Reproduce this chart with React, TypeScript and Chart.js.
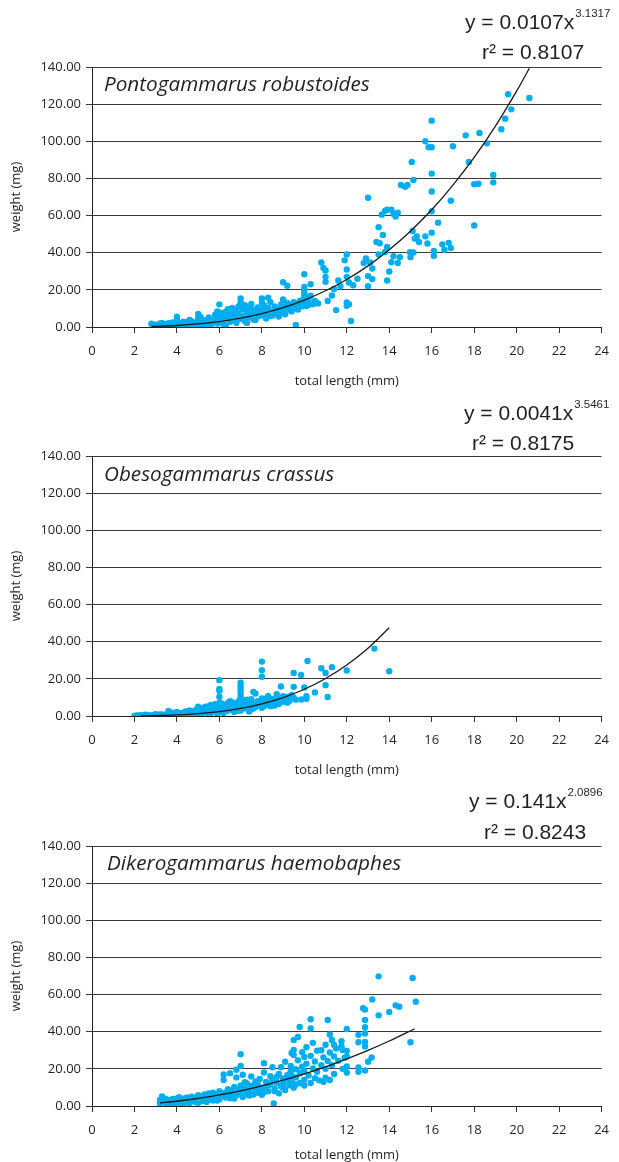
import React, { useEffect, useRef } from "react";
import { Chart, registerables } from "chart.js";

Chart.register(...registerables);

// ---------- DATA ----------
const SPECIES = ["Pontogammarus robustoides", "Obesogammarus crassus", "Dikerogammarus haemobaphes"];
const EQ_COEF = ["0.0107", "0.0041", "0.141"];
const EQ_EXP = ["3.1317", "3.5461", "2.0896"];
const R2 = ["0.8107", "0.8175", "0.8243"];
const X_TITLE = "total length (mm)";
const Y_TITLE = "weight (mg)";
const X_MIN = 0, X_MAX = 24, X_STEP = 2;
const Y_MIN = 0, Y_MAX = 140, Y_STEP = 20;

// fitted curves as drawn (length mm, weight mg)
const robustoidesTrendX = [2.8, 4, 5, 6, 7, 8, 9, 10, 11, 12, 13, 14, 15, 16, 17, 18, 19, 20, 20.6];
const robustoidesTrendY = [0.27, 0.82, 1.65, 2.93, 4.74, 7.2, 10.4, 14.5, 19.5, 25.6, 32.9, 41.6, 51.6, 63.1, 76.4, 91.3, 108.2, 127.0, 139.3];
const crassusTrendX = [2.3, 3, 4, 5, 6, 7, 8, 9, 10, 11, 12, 13, 14];
const crassusTrendY = [0.08, 0.2, 0.56, 1.23, 2.36, 4.1, 6.53, 9.9, 14.4, 20.2, 27.5, 36.5, 47.5];
const haemobaphesTrendX = [3.2, 4, 5, 6, 7, 8, 9, 10, 11, 12, 13, 14, 15.2];
const haemobaphesTrendY = [1.6, 2.56, 4.06, 5.96, 8.2, 10.87, 13.9, 17.3, 21.1, 25.4, 30.0, 35.0, 41.6];

const robustoidesPoints: [number, number][] = [
  [2.8, 1.8], [2.9, 0.6], [3.0, 1.2], [3.1, 0.3], [3.2, 1.9], [3.3, 0.8], [3.4, 1.5], [3.5, 0.4], [3.6, 2.0], [3.7, 1.0],
  [3.8, 0.5], [3.9, 1.6], [4.0, 3.8], [4.0, 5.6], [4.0, 0.8], [4.1, 2.2], [4.2, 1.2], [4.3, 0.4], [4.4, 1.8], [4.5, 2.7],
  [4.5, 0.9], [4.6, 1.4], [4.7, 3.0], [4.8, 0.7], [4.9, 2.1], [5.0, 7.0], [5.0, 4.7], [5.0, 3.2], [5.0, 1.6], [5.1, 0.8],
  [5.2, 2.6], [5.2, 4.1], [5.3, 1.3], [5.4, 3.5], [5.5, 2.0], [5.5, 5.2], [5.6, 0.9], [5.7, 3.0], [5.8, 4.4], [5.9, 1.8],
  [5.9, 8.4], [6.0, 12.2], [6.0, 6.0], [6.0, 2.6], [6.1, 3.9], [6.2, 5.3], [6.2, 1.5], [6.3, 8.2], [6.4, 9.6], [6.4, 4.6],
  [6.5, 2.8], [6.5, 6.9], [6.6, 10.3], [6.6, 3.6], [6.7, 5.8], [6.8, 8.5], [6.8, 2.2], [6.9, 7.2], [7.0, 15.4], [7.0, 13.3],
  [7.0, 4.3], [7.1, 6.1], [7.1, 9.7], [7.2, 11.7], [7.2, 3.1], [7.3, 8.0], [7.4, 5.2], [7.5, 6.8], [7.6, 9.2], [7.6, 4.0],
  [7.7, 7.6], [7.8, 10.5], [7.8, 5.6], [7.9, 8.8], [8.0, 15.4], [8.0, 13.1], [8.0, 6.4], [8.1, 9.4], [8.2, 7.0], [8.3, 15.8],
  [8.3, 10.2], [8.4, 5.9], [8.5, 8.1], [8.6, 11.0], [8.7, 7.4], [8.8, 9.6], [8.9, 12.0], [9.0, 24.1], [9.0, 14.9], [9.0, 13.6],
  [9.0, 8.6], [9.1, 10.8], [9.2, 22.2], [9.3, 9.3], [9.4, 11.9], [9.5, 13.4], [9.6, 1.1], [9.6, 10.1], [9.7, 12.7], [9.8, 14.2],
  [9.9, 11.2], [10.0, 28.4], [10.0, 21.6], [10.0, 19.8], [10.0, 18.0], [10.0, 16.4], [10.0, 13.0], [10.1, 11.3], [10.2, 14.5], [10.3, 23.0],
  [10.4, 12.3], [10.65, 12.7], [10.8, 34.7], [10.9, 31.8], [11.0, 30.4], [11.0, 27.0], [11.0, 24.3], [11.1, 14.0], [11.3, 17.0], [11.4, 20.5],
  [11.5, 9.1], [11.6, 25.0], [11.7, 22.0], [11.9, 35.9], [12.0, 39.0], [12.0, 31.0], [12.0, 27.0], [12.1, 24.0], [12.0, 13.2], [12.1, 12.3],
  [12.0, 11.4], [12.2, 3.2], [12.3, 22.5], [12.5, 26.0], [12.8, 34.5], [12.9, 36.9], [13.0, 69.6], [13.1, 34.7], [13.2, 31.5], [13.0, 27.4],
  [13.2, 25.8], [13.0, 22.0], [13.4, 45.8], [13.5, 53.7], [13.5, 39.1], [13.55, 45.1], [13.65, 60.5], [13.7, 49.6], [13.8, 40.4], [13.8, 62.5],
  [13.9, 63.1], [13.9, 43.1], [13.9, 25.0], [14.0, 29.9], [14.1, 34.9], [14.1, 63.1], [14.2, 61.0], [14.2, 38.1], [14.3, 59.5], [14.4, 61.5],
  [14.4, 34.5], [14.5, 37.6], [14.55, 76.5], [14.75, 75.5], [14.86, 76.5], [14.98, 40.3], [15.0, 37.6], [15.06, 88.9], [15.1, 51.7], [15.14, 79.2],
  [15.14, 40.1], [15.2, 47.6], [15.3, 48.8], [15.4, 45.8], [15.7, 48.8], [15.7, 100.0], [15.8, 45.0], [15.85, 96.8], [16.0, 111.1], [16.0, 96.8],
  [16.0, 82.6], [16.0, 73.0], [16.0, 62.3], [16.0, 50.8], [16.1, 41.0], [16.1, 38.4], [16.3, 56.2], [16.5, 44.5], [16.6, 41.6], [16.8, 45.3],
  [16.9, 68.0], [16.9, 42.5], [17.0, 97.3], [17.6, 103.2], [17.75, 88.9], [18.0, 54.7], [18.0, 76.9], [18.2, 77.1], [18.25, 104.5], [18.6, 98.9],
  [18.9, 81.9], [18.9, 77.9], [19.28, 106.5], [19.46, 112.2], [19.6, 125.3], [19.75, 117.2], [20.6, 123.3],
  [3.0, 0.1], [3.3, 2.2], [3.5, 1.4], [3.8, 2.4], [4.1, 0.3], [4.3, 2.8], [4.6, 3.8], [4.8, 2.0], [5.1, 5.6], [5.3, 0.3],
  [5.6, 3.8], [5.8, 6.6], [6.1, 7.6], [6.3, 0.8], [6.5, 4.9], [6.7, 9.2], [6.9, 4.8], [6.9, 11.0], [7.3, 2.2], [7.4, 10.2],
  [7.5, 12.4], [7.7, 3.8], [7.9, 6.0], [8.1, 11.8], [8.2, 4.6], [8.4, 13.4], [8.5, 6.2], [8.6, 9.0], [8.8, 5.6], [8.9, 7.8],
  [9.1, 6.8], [9.2, 13.0], [9.3, 11.6], [9.4, 8.4], [9.5, 10.6], [9.7, 9.4], [9.8, 11.8], [9.9, 13.8], [10.1, 15.8], [10.2, 12.0],
  [10.3, 16.8], [10.5, 14.0],
];

const crassusPoints: [number, number][] = [
  [2.0, 0.0], [2.1, 0.3], [2.2, 0.1], [2.3, 0.4], [2.4, 0.0], [2.5, 0.2], [2.6, 0.5], [2.7, 0.1], [2.8, 0.3], [2.9, 0.6],
  [3.0, 0.2], [3.1, 0.4], [3.2, 0.8], [3.3, 0.1], [3.4, 0.5], [3.5, 0.9], [3.6, 2.7], [3.6, 0.3], [3.7, 1.1], [3.8, 0.6],
  [3.9, 1.4], [4.0, 0.4], [4.0, 2.2], [4.1, 1.0], [4.2, 1.7], [4.3, 0.5], [4.4, 2.4], [4.5, 1.2], [4.6, 0.6], [4.6, 3.0],
  [4.7, 1.8], [4.8, 0.9], [4.9, 3.4], [5.0, 2.1], [5.0, 5.0], [5.0, 1.0], [5.1, 4.2], [5.2, 2.8], [5.2, 1.3], [5.3, 3.7],
  [5.4, 5.2], [5.4, 2.0], [5.5, 3.1], [5.6, 6.0], [5.6, 1.5], [5.7, 4.4], [5.8, 2.6], [5.8, 6.4], [5.9, 3.6], [6.0, 19.3],
  [6.0, 14.6], [6.0, 13.6], [6.0, 10.4], [6.0, 7.2], [6.0, 5.0], [6.0, 2.1], [6.1, 3.9], [6.2, 6.1], [6.2, 1.6], [6.3, 4.7],
  [6.4, 7.0], [6.4, 2.9], [6.5, 5.5], [6.6, 3.5], [6.6, 7.4], [6.7, 2.2], [6.8, 6.2], [6.8, 4.3], [6.9, 8.0], [7.0, 17.9],
  [7.0, 16.0], [7.0, 14.3], [7.0, 12.5], [7.0, 10.4], [7.0, 8.6], [7.0, 5.1], [7.0, 3.0], [7.1, 6.8], [7.2, 4.2], [7.2, 8.4],
  [7.3, 5.9], [7.4, 7.3], [7.5, 3.6], [7.5, 9.0], [7.6, 13.0], [7.6, 6.4], [7.7, 12.1], [7.7, 4.8], [7.8, 8.0], [7.9, 5.6],
  [8.0, 29.3], [8.0, 24.6], [8.0, 21.1], [8.0, 9.4], [8.0, 7.1], [8.0, 4.4], [8.1, 8.6], [8.2, 6.2], [8.3, 10.7], [8.3, 7.8],
  [8.4, 5.3], [8.5, 9.2], [8.6, 7.0], [8.7, 11.8], [8.7, 8.4], [8.8, 6.4], [8.9, 15.9], [8.9, 9.6], [9.0, 7.7], [9.1, 8.9],
  [9.2, 10.3], [9.3, 8.2], [9.5, 23.2], [9.5, 15.7], [9.5, 9.8], [9.6, 8.8], [9.85, 22.1], [9.86, 8.9], [10.0, 15.4], [10.1, 10.7],
  [10.1, 9.3], [10.15, 29.6], [10.5, 12.7], [10.8, 25.7], [11.0, 23.2], [11.0, 16.6], [11.1, 10.2], [11.3, 26.3], [12.0, 24.5], [13.3, 36.3],
  [14.0, 24.1],
  [2.5, 0.7], [3.0, 1.0], [3.3, 0.9], [3.8, 1.8], [4.2, 0.2], [4.5, 2.6], [4.8, 2.6], [5.1, 0.4], [5.3, 4.8], [5.5, 0.6],
  [5.7, 5.6], [5.9, 1.2], [6.1, 6.8], [6.3, 2.6], [6.5, 8.0], [6.7, 5.2], [6.9, 2.8], [7.1, 4.4], [7.3, 8.8], [7.4, 2.4],
  [7.6, 4.0], [7.8, 6.4], [8.1, 5.4], [8.2, 9.4], [8.4, 7.2], [8.6, 5.6], [8.8, 9.2], [9.0, 10.6], [9.2, 7.2], [9.3, 9.6],
  [9.4, 11.4],
];

const haemobaphesPoints: [number, number][] = [
  [3.2, 1.4], [3.2, 3.2], [3.3, 5.2], [3.3, 2.0], [3.4, 2.6], [3.5, 1.2], [3.5, 3.6], [3.6, 2.2], [3.7, 1.6], [3.7, 3.0],
  [3.8, 2.4], [3.9, 1.4], [3.9, 3.4], [4.0, 2.0], [4.0, 4.0], [4.1, 2.8], [4.2, 1.8], [4.2, 3.6], [4.3, 2.6], [4.4, 4.4],
  [4.4, 1.9], [4.5, 3.2], [4.6, 2.4], [4.7, 5.0], [4.7, 3.6], [4.8, 2.6], [4.9, 4.2], [5.0, 3.0], [5.0, 5.8], [5.1, 2.4],
  [5.1, 4.6], [5.2, 3.6], [5.3, 6.2], [5.3, 2.8], [5.4, 4.8], [5.5, 3.4], [5.5, 6.8], [5.6, 5.4], [5.7, 3.0], [5.7, 7.2],
  [5.8, 4.4], [5.9, 6.2], [6.0, 3.6], [6.0, 8.0], [6.1, 5.2], [6.2, 17.0], [6.2, 14.0], [6.2, 7.0], [6.3, 4.6], [6.4, 9.0],
  [6.4, 6.0], [6.5, 17.7], [6.5, 4.2], [6.6, 7.6], [6.7, 10.2], [6.8, 19.5], [6.8, 15.4], [6.8, 5.6], [6.9, 8.6], [7.0, 27.9],
  [7.0, 21.6], [7.0, 11.0], [7.0, 7.0], [7.1, 16.8], [7.1, 4.8], [7.2, 9.4], [7.3, 12.2], [7.3, 6.6], [7.4, 8.2], [7.5, 15.9],
  [7.5, 10.6], [7.6, 6.2], [7.7, 13.2], [7.7, 9.0], [7.8, 11.6], [7.8, 7.2], [7.9, 14.6], [8.0, 9.8], [8.0, 6.0], [8.1, 23.0],
  [8.1, 18.0], [8.2, 13.0], [8.2, 10.5], [8.3, 8.0], [8.4, 16.0], [8.4, 11.8], [8.5, 20.9], [8.5, 14.2], [8.56, 1.4], [8.6, 9.4],
  [8.7, 12.6], [8.8, 17.2], [8.8, 6.8], [8.9, 20.9], [8.9, 10.6], [9.0, 14.8], [9.0, 12.0], [9.1, 23.8], [9.1, 8.6], [9.2, 16.6],
  [9.3, 11.2], [9.36, 21.6], [9.36, 18.6], [9.4, 28.6], [9.4, 13.6], [9.5, 35.6], [9.5, 30.2], [9.5, 27.5], [9.5, 9.8], [9.6, 19.8],
  [9.6, 15.4], [9.7, 37.2], [9.7, 24.6], [9.78, 42.6], [9.8, 12.4], [9.8, 17.6], [9.9, 29.0], [9.9, 21.2], [10.0, 26.4], [10.0, 18.6],
  [10.0, 14.2], [10.0, 11.0], [10.1, 22.8], [10.1, 31.6], [10.2, 16.4], [10.3, 46.7], [10.3, 41.7], [10.3, 27.0], [10.3, 12.4], [10.4, 20.2],
  [10.4, 34.0], [10.5, 24.0], [10.5, 15.0], [10.6, 29.8], [10.6, 18.4], [10.7, 13.8], [10.8, 30.0], [10.8, 22.0], [10.9, 26.2], [10.9, 13.0],
  [11.0, 33.0], [11.0, 20.0], [11.0, 15.2], [11.1, 46.3], [11.1, 24.2], [11.2, 38.5], [11.2, 28.8], [11.2, 14.0], [11.3, 35.6], [11.3, 22.0],
  [11.4, 32.9], [11.4, 26.7], [11.4, 17.2], [11.5, 31.0], [11.6, 24.3], [11.75, 34.9], [11.75, 32.0], [11.8, 30.2], [11.8, 20.0], [11.9, 26.0],
  [12.0, 41.5], [12.0, 29.7], [12.0, 26.7], [12.0, 21.3], [12.0, 18.0], [12.55, 38.3], [12.55, 34.3], [12.55, 20.8], [12.55, 18.4], [12.77, 52.6],
  [12.86, 51.9], [12.86, 46.3], [12.86, 42.4], [12.86, 39.0], [12.86, 34.5], [12.86, 32.0], [12.86, 19.1], [13.0, 23.8], [13.17, 26.1], [13.2, 57.4],
  [13.5, 69.8], [13.5, 48.8], [14.0, 50.6], [14.3, 54.2], [14.47, 53.5], [15.0, 34.3], [15.1, 68.9], [15.25, 56.2],
  [3.4, 4.0], [3.6, 1.0], [3.8, 3.8], [4.0, 1.2], [4.1, 4.8], [4.3, 1.4], [4.5, 4.6], [4.6, 1.6], [4.8, 4.0], [4.9, 2.0],
  [5.0, 1.8], [5.2, 5.2], [5.4, 2.2], [5.6, 3.6], [5.8, 6.0], [5.9, 3.0], [6.1, 7.0], [6.3, 6.4], [6.5, 8.4], [6.6, 5.2],
  [6.7, 4.0], [6.9, 6.4], [7.1, 9.0], [7.2, 12.8], [7.4, 5.6], [7.6, 11.2], [7.9, 8.4], [8.1, 7.4], [8.3, 11.0], [8.6, 8.0],
  [8.7, 15.6], [9.0, 9.8], [9.2, 13.8], [9.4, 16.4], [9.6, 11.6],
];

const PANEL_POINTS = [robustoidesPoints, crassusPoints, haemobaphesPoints];
const PANEL_TREND_X = [robustoidesTrendX, crassusTrendX, haemobaphesTrendX];
const PANEL_TREND_Y = [robustoidesTrendY, crassusTrendY, haemobaphesTrendY];

// ---------- LAYOUT (not data) ----------
const W = 619;
const PANEL_H = 389;
const PANEL_TOPS = [0, 389, 779];
const X_TITLE_PAD = [0, 0, 5];
const EQ_POS = [
  { x1: 465, y1: 23, x2: 482, y2: 53 },
  { x1: 464, y1: 25, x2: 472, y2: 55 },
  { x1: 469, y1: 23, x2: 484, y2: 54 },
];
const NAME_POS = [
  { x: 104, y: 85 },
  { x: 104, y: 86 },
  { x: 107, y: 85 },
];

const TXT = "#231f20";
const DOT = "#00aeef";
const AXIS_FONT = { family: "'Open Sans', 'Noto Sans', sans-serif", size: 13 };

function Panel({ idx }: { idx: number }) {
  const ref = useRef<HTMLCanvasElement>(null);
  useEffect(() => {
    const canvas = ref.current!;
    const textPlugin = {
      id: "panelText",
      afterDraw(chart: any) {
        const ctx = chart.ctx as CanvasRenderingContext2D;
        ctx.save();
        ctx.fillStyle = TXT;
        ctx.textBaseline = "middle";
        ctx.textAlign = "left";
        // species name
        ctx.font = "italic 20.7px 'Open Sans', 'Noto Sans', sans-serif";
        ctx.fillText(SPECIES[idx], NAME_POS[idx].x, NAME_POS[idx].y);
        // equation
        const p = EQ_POS[idx];
        ctx.font = "21px 'Liberation Sans', Arial, sans-serif";
        const main = "y = " + EQ_COEF[idx] + "x";
        ctx.fillText(main, p.x1, p.y1);
        const w = ctx.measureText(main).width;
        ctx.font = "11.5px 'Liberation Sans', Arial, sans-serif";
        ctx.fillText(EQ_EXP[idx], p.x1 + w + 1, p.y1 - 9);
        ctx.font = "21px 'Liberation Sans', Arial, sans-serif";
        ctx.fillText("r\u00b2 = " + R2[idx], p.x2, p.y2);
        ctx.restore();
      },
    };
    const chart = new Chart(canvas, {
      type: "scatter",
      data: {
        datasets: [
          {
            type: "line",
            data: PANEL_TREND_X[idx].map((x, i) => ({ x, y: PANEL_TREND_Y[idx][i] })),
            borderColor: "#1a1a1a",
            borderWidth: 1.3,
            pointRadius: 0,
            cubicInterpolationMode: "monotone",
            fill: false,
            order: 0,
          } as any,
          {
            type: "scatter",
            data: PANEL_POINTS[idx].map(([x, y]) => ({ x, y })),
            backgroundColor: DOT,
            borderWidth: 0,
            pointRadius: 3.2,
            order: 1,
          },
        ],
      },
      options: {
        animation: false,
        responsive: false,
        devicePixelRatio: 1,
        layout: { padding: { top: 67, right: 16, left: 0, bottom: 0 } },
        plugins: { legend: { display: false }, tooltip: { enabled: false } },
        scales: {
          x: {
            type: "linear",
            min: X_MIN,
            max: X_MAX,
            ticks: { stepSize: X_STEP, font: AXIS_FONT, color: TXT, padding: 10, maxRotation: 0, autoSkip: false },
            grid: { drawOnChartArea: false, drawTicks: true, tickLength: 6, color: "#333" },
            border: { color: "#222", width: 1 },
            title: { display: true, text: X_TITLE, font: AXIS_FONT, color: TXT, padding: { top: 0, bottom: X_TITLE_PAD[idx] } },
            afterFit: (s: any) => { s.height = PANEL_H - 327; },
          },
          y: {
            type: "linear",
            min: Y_MIN,
            max: Y_MAX,
            ticks: { stepSize: Y_STEP, font: AXIS_FONT, color: TXT, padding: 5, callback: (v: any) => Number(v).toFixed(2) },
            grid: { color: "#3a3a3a", tickLength: 6, lineWidth: 1 },
            border: { color: "#222", width: 1 },
            title: { display: true, text: Y_TITLE, font: AXIS_FONT, color: TXT, padding: { top: 8, bottom: 0 } },
            afterFit: (s: any) => { s.width = 92; },
          },
        },
      } as any,
      plugins: [textPlugin],
    });
    return () => chart.destroy();
  }, [idx]);
  return (
    <div style={{ position: "absolute", left: 0, top: PANEL_TOPS[idx], width: W, height: PANEL_H }}>
      <canvas ref={ref} width={W} height={PANEL_H} style={{ display: "block", width: W, height: PANEL_H }} />
    </div>
  );
}

export default function App() {
  return (
    <div style={{ position: "fixed", left: 0, top: 0, width: W, height: 1162, overflow: "hidden", background: "#fff" }}>
      <Panel idx={0} />
      <Panel idx={1} />
      <Panel idx={2} />
    </div>
  );
}
